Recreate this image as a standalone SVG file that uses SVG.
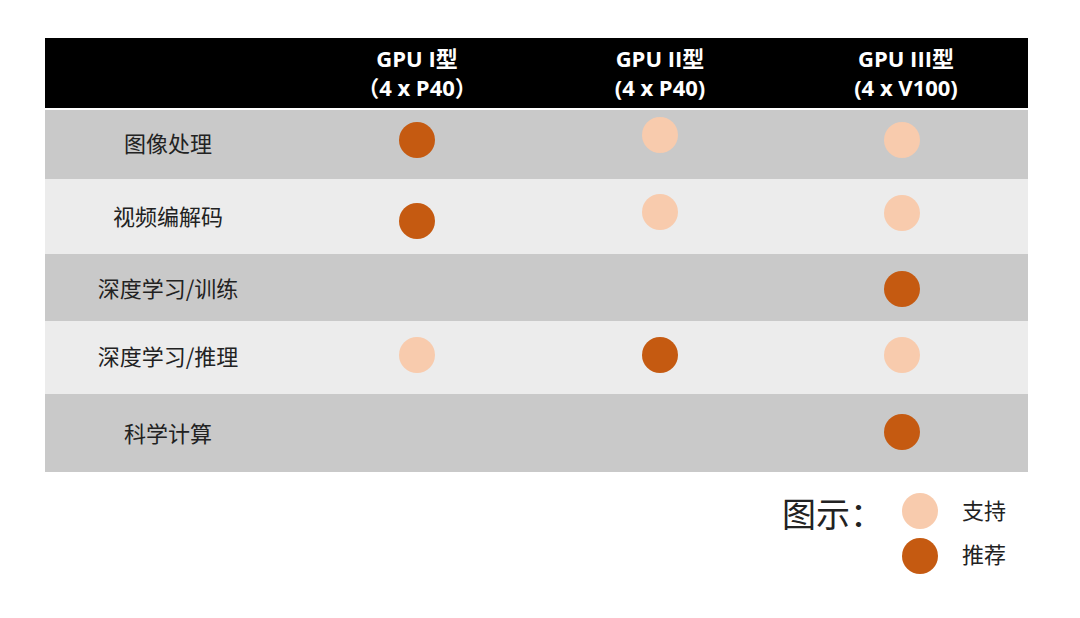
<svg xmlns="http://www.w3.org/2000/svg" width="1080" height="618" viewBox="0 0 1080 618">
<style>
.h{fill:#fff;font-family:"Open Sans","Noto Sans CJK SC",sans-serif;font-weight:bold;font-size:22px;text-anchor:middle}
.l{fill:#222;font-family:"Noto Sans CJK SC",sans-serif;font-size:22px;text-anchor:middle}
.d{fill:#c55a11}.p{fill:#f8cbad}
.g{fill:#c9c9c9}.w{fill:#ececec}
</style>
<rect width="1080" height="618" fill="#fff"/>
<g id="header"><rect x="45" y="38" width="983" height="70" fill="#000"/>
<text class="h" x="417" y="67">GPU I型</text><text class="h" x="417" y="96">（4 x P40）</text>
<text class="h" x="660" y="67">GPU II型</text><text class="h" x="660" y="96">(4 x P40)</text>
<text class="h" x="906" y="67">GPU III型</text><text class="h" x="906" y="96">(4 x V100)</text></g>
<g id="rows">
<rect class="g" x="45" y="110" width="983" height="69"/>
<rect class="w" x="45" y="179" width="983" height="75"/>
<rect class="g" x="45" y="254" width="983" height="67"/>
<rect class="w" x="45" y="321" width="983" height="73"/>
<rect class="g" x="45" y="394" width="983" height="78"/>
<text class="l" x="168" y="152">图像处理</text>
<text class="l" x="168" y="225">视频编解码</text>
<text class="l" x="168" y="297">深度学习/训练</text>
<text class="l" x="168" y="365">深度学习/推理</text>
<text class="l" x="168" y="442">科学计算</text>
</g>
<g id="marks">
<circle class="d" cx="417" cy="140" r="18"/><circle class="p" cx="660" cy="135" r="18"/><circle class="p" cx="902" cy="140" r="18"/>
<circle class="d" cx="417" cy="221" r="18"/><circle class="p" cx="660" cy="212" r="18"/><circle class="p" cx="902" cy="213" r="18"/>
<circle class="d" cx="902" cy="289" r="18"/>
<circle class="p" cx="417" cy="355" r="18"/><circle class="d" cx="660" cy="355" r="18"/><circle class="p" cx="902" cy="355" r="18"/>
<circle class="d" cx="902" cy="432" r="18"/>
</g>
<g id="legend">
<text x="782" y="527" style="font-family:'Noto Sans CJK SC',sans-serif;font-size:34px;fill:#222">图示：</text>
<circle class="p" cx="920" cy="511" r="18"/><text x="962" y="519" style="font-family:'Noto Sans CJK SC',sans-serif;font-size:22px;fill:#222">支持</text>
<circle class="d" cx="920" cy="556" r="18"/><text x="962" y="563" style="font-family:'Noto Sans CJK SC',sans-serif;font-size:22px;fill:#222">推荐</text>
</g>
</svg>
